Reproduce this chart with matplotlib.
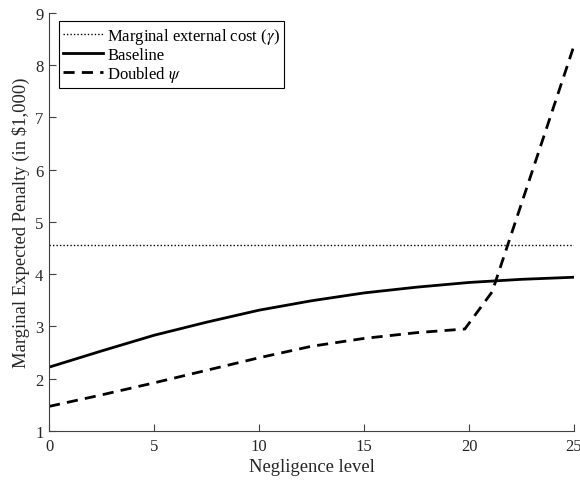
import matplotlib
matplotlib.use("Agg")
import matplotlib.pyplot as plt

plt.rcParams['font.family'] = ['Liberation Serif', 'DejaVu Serif']
plt.rcParams['mathtext.fontset'] = 'stix'

gamma = 4.55
base_x = [0, 2.5, 5, 7.5, 10, 12.5, 15, 17.5, 20, 22.5, 25]
base_y = [2.22, 2.53, 2.83, 3.08, 3.31, 3.49, 3.64, 3.75, 3.84, 3.90, 3.94]
dbl_x = [0, 2.5, 5, 7.5, 10, 12.5, 15, 17.5, 19.8, 21.1, 25]
dbl_y = [1.47, 1.69, 1.92, 2.16, 2.40, 2.62, 2.77, 2.88, 2.95, 3.66, 8.37]

xticks = [0, 5, 10, 15, 20, 25]
yticks = [1, 2, 3, 4, 5, 6, 7, 8, 9]

fig = plt.figure(figsize=(5.8, 4.81), dpi=100)
ax = fig.add_axes([0.0845, 0.1019, 0.9052, 0.8698])

ax.axhline(gamma, color='black', linestyle=(0, (1, 1.5)), linewidth=1.0,
           label=r'Marginal external cost ($\gamma$)')
ax.plot(base_x, base_y, color='black', linewidth=2.0, label='Baseline')
ax.plot(dbl_x, dbl_y, color='black', linewidth=2.0, linestyle=(0, (4, 2.6)),
        label=r'Doubled $\psi$')

ax.set_xlim(0, 25)
ax.set_ylim(1, 9)
ax.set_xticks(xticks)
ax.set_yticks(yticks)
ax.tick_params(direction='in', length=5, width=0.8, labelsize=12, colors='#404040',
               labelcolor='#262626')
ax.tick_params(axis='x', pad=5)
ax.tick_params(axis='y', pad=4)
for s in ['top', 'right']:
    ax.spines[s].set_visible(False)
for s in ['left', 'bottom']:
    ax.spines[s].set_color('#404040')
    ax.spines[s].set_linewidth(0.8)

ax.set_xlabel('Negligence level', fontsize=13.4, color='#262626', labelpad=3)
ax.set_ylabel('Marginal Expected Penalty (in \\$1,000)', fontsize=13.4, color='#262626', labelpad=4)

leg = ax.legend(loc='upper left', bbox_to_anchor=(0.019, 0.979), fontsize=12,
                frameon=True, fancybox=False, edgecolor='black', framealpha=1,
                handlelength=2.4, handletextpad=0.25, borderpad=0.25, labelspacing=0.08,
                borderaxespad=0.0)
leg.get_frame().set_linewidth(0.8)

fig.savefig('out.png', dpi=100)
